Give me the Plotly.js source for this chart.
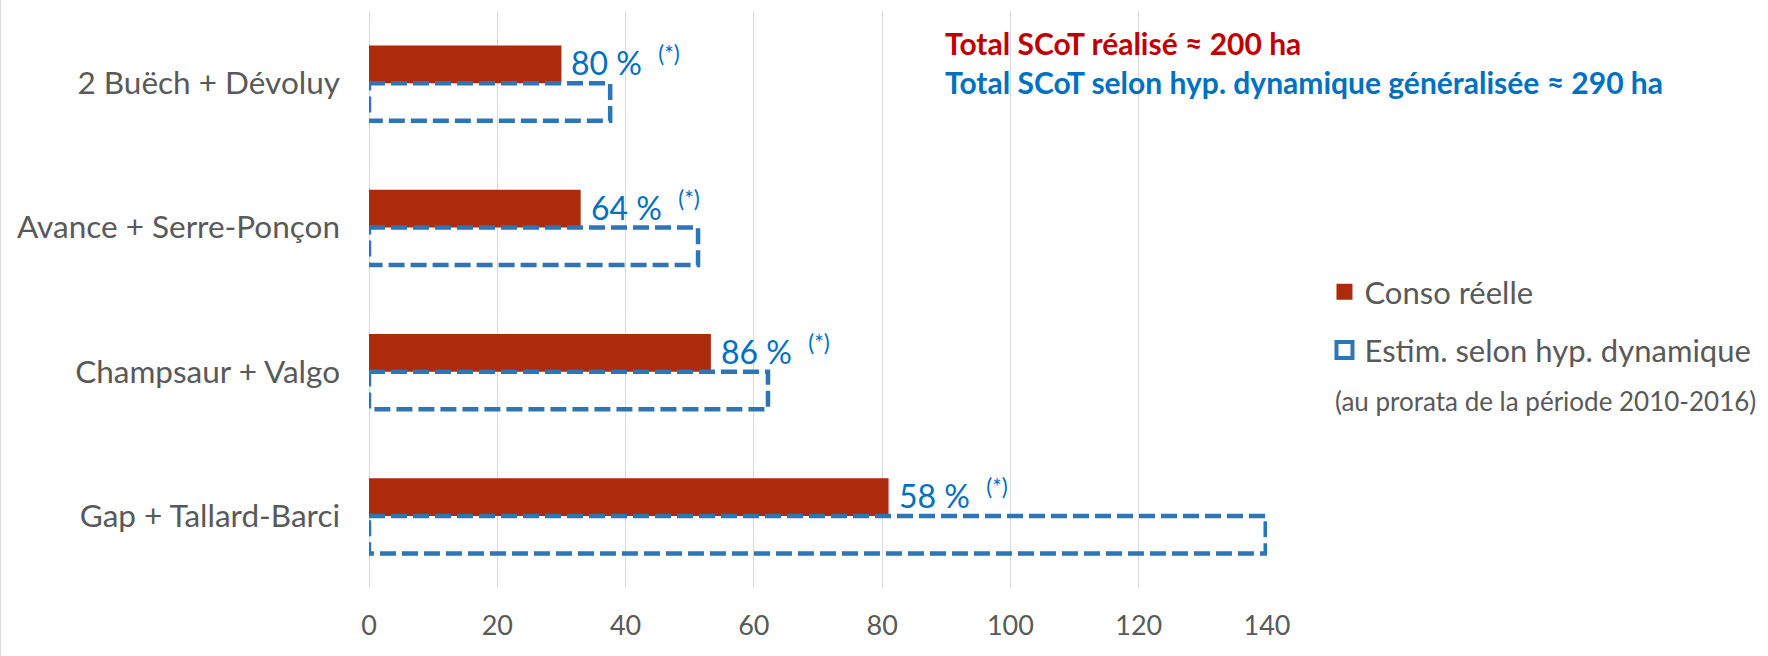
<!DOCTYPE html>
<html>
<head>
<meta charset="utf-8">
<script src="https://cdn.plot.ly/plotly-3.0.1.min.js"></script>
<style>
  html, body { margin: 0; padding: 0; background: #ffffff; }
  #chart { width: 1768px; height: 656px; position: absolute; left: 0; top: 0; }
  #edge { position: absolute; left: 0; top: 0; width: 1px; height: 656px; background: #D9D9D9; }
</style>
</head>
<body>
<div id="chart"></div>
<div id="edge"></div>
<script>
// ---- data ----
const categories = ["2 Buëch + Dévoluy", "Avance + Serre-Ponçon", "Champsaur + Valgo", "Gap + Tallard-Barci"];
const consoReelle = [30, 33, 53.3, 81];          // ha, real consumption
const estimDynamique = [37.6, 51.3, 62.2, 139.8]; // ha, estimate under dynamic hypothesis
const ratioLabels = [80, 64, 86, 58];             // % printed next to the bars
const seriesNames = ["Conso réelle", "Estim. selon hyp. dynamique"];
const noteText = "(au prorata de la période 2010-2016)";
const totalLines = ["Total SCoT réalisé ≈ 200 ha", "Total SCoT selon hyp. dynamique généralisée ≈ 290 ha"];
const xTicks = [0, 20, 40, 60, 80, 100, 120, 140];

// ---- styles ----
const FONT = "Lato, 'Open Sans', sans-serif";
const RED = "#AD2A0D";
const BLUE_LINE = "#2E75B6";
const BLUE_TEXT = "#0070C0";
const GRAY = "#595959";
const BARGAP = 0.48;
const barW = (1 - BARGAP) / 2;

const traces = [
  {
    type: "bar", orientation: "h", name: seriesNames[0],
    y: categories, x: consoReelle,
    marker: { color: RED, line: { width: 0 } },
    showlegend: false, hoverinfo: "x+y"
  },
  {
    type: "bar", orientation: "h", name: seriesNames[1],
    y: categories, x: estimDynamique,
    marker: { color: "rgba(255,255,255,0)", line: { width: 0 } },
    showlegend: false, hoverinfo: "x+y"
  },
  {
    type: "scatter", mode: "markers", name: seriesNames[0],
    x: [null], y: [null], legend: "legend",
    marker: { symbol: "square", color: RED, size: 18, line: { width: 0 } },
    hoverinfo: "skip"
  },
  {
    type: "scatter", mode: "markers", name: seriesNames[1],
    x: [null], y: [null], legend: "legend2",
    marker: { symbol: "square-open", color: BLUE_LINE, size: 16, line: { width: 4, color: BLUE_LINE } },
    hoverinfo: "skip"
  }
];

// dashed outlines of the estimate bars, built from the data
const shapes = estimDynamique.map((v, i) => ({
  type: "rect", xref: "x", yref: "y", layer: "above",
  x0: 0, x1: v, y0: i, y1: i + barW,
  line: { color: BLUE_LINE, width: 4.5, dash: "16px,6px" },
  fillcolor: "rgba(0,0,0,0)"
}));

const annotations = consoReelle.map((v, i) => ({
  xref: "x", yref: "y", x: v, y: i - barW / 2,
  xanchor: "left", yanchor: "middle", xshift: 8, yshift: 3,
  showarrow: false,
  text: ratioLabels[i] + " %  <sup>(*)</sup>",
  font: { family: FONT, size: 32, color: BLUE_TEXT }
}));

annotations.push({
  xref: "paper", yref: "paper", x: 1.073, y: 0.324,
  xanchor: "left", yanchor: "middle", showarrow: false,
  text: noteText,
  font: { family: FONT, size: 26, color: GRAY }
});

const layout = {
  width: 1768, height: 656, autosize: false,
  paper_bgcolor: "#ffffff", plot_bgcolor: "#ffffff",
  margin: { l: 369, r: 498, t: 11, b: 68, pad: 0 },
  barmode: "group", bargap: BARGAP, bargroupgap: 0,
  title: {
    text: "<b><span style='color:#C00000'>" + totalLines[0] + "</span><br><span style='color:" + BLUE_TEXT + "'>" + totalLines[1] + "</span></b>",
    font: { family: FONT, size: 30 },
    xref: "container", x: 945 / 1768, xanchor: "left",
    yref: "container", y: 1 - 55 / 656, yanchor: "middle",
    align: "left"
  },
  xaxis: {
    range: [0, 140], tickvals: xTicks, ticks: "",
    showgrid: true, gridcolor: "#D9D9D9", gridwidth: 1.3,
    zeroline: true, zerolinecolor: "#D9D9D9", zerolinewidth: 1.3,
    showline: false, ticklabelstandoff: 19,
    tickfont: { family: FONT, size: 27, color: GRAY },
    fixedrange: true
  },
  yaxis: {
    type: "category", autorange: "reversed",
    showgrid: false, zeroline: false, showline: false, ticks: "",
    ticklabelstandoff: 28,
    tickfont: { family: FONT, size: 31.5, color: GRAY },
    fixedrange: true
  },
  legend: {
    x: 1.064, xanchor: "left", y: 0.513, yanchor: "middle",
    font: { family: FONT, size: 31, color: GRAY },
    bgcolor: "rgba(0,0,0,0)", borderwidth: 0
  },
  legend2: {
    x: 1.064, xanchor: "left", y: 0.412, yanchor: "middle",
    font: { family: FONT, size: 31, color: GRAY },
    bgcolor: "rgba(0,0,0,0)", borderwidth: 0
  },
  shapes: shapes,
  annotations: annotations,
  hovermode: "closest"
};

Plotly.newPlot("chart", traces, layout, { displayModeBar: false, staticPlot: false });
</script>
</body>
</html>
